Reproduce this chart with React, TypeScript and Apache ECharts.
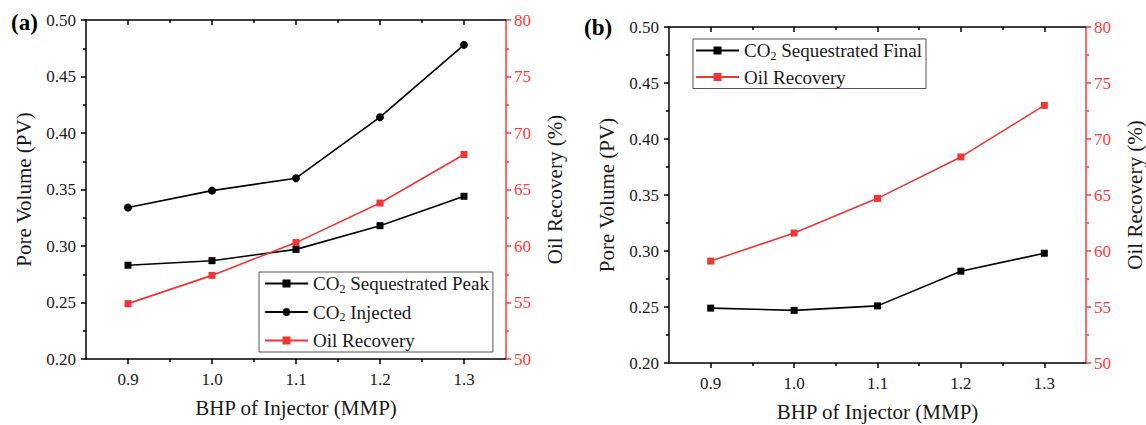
import React, { useEffect, useRef } from 'react';
import * as echarts from 'echarts';

// ---- data ----
const bhpValues = [0.9, 1.0, 1.1, 1.2, 1.3];
const xMajorTicks = [0.9, 1.0, 1.1, 1.2, 1.3];
const xMinorTicks = [0.95, 1.05, 1.15, 1.25];

const seqPeakA = [0.283, 0.287, 0.297, 0.318, 0.344];
const injectedA = [0.334, 0.349, 0.360, 0.414, 0.478];
const oilRecoveryA = [54.9, 57.4, 60.3, 63.8, 68.1];

const seqFinalB = [0.249, 0.247, 0.251, 0.282, 0.298];
const oilRecoveryB = [59.1, 61.6, 64.7, 68.4, 73.0];

const FONT = 'Liberation Serif';
const BLACK = '#000';
const TEXT = '#1a1a1a';
const RED = '#f03535';
const RED_AXIS = '#ff3b3b';

const pairs = (vals: number[]) => bhpValues.map((x, i) => [x, vals[i]]);

function xAxesFor(grid: number) {
  const common = {
    type: 'value',
    gridIndex: grid,
    min: 0.85,
    max: 1.35,
    splitLine: { show: false },
  };
  return [
    {
      ...common,
      position: 'bottom',
      axisLine: { show: true, onZero: false, lineStyle: { color: BLACK, width: 1.5 } },
      axisTick: { show: true, customValues: xMajorTicks, length: 5, inside: false, lineStyle: { color: BLACK, width: 1.5 } },
      axisLabel: {
        show: true,
        customValues: xMajorTicks,
        formatter: (v: number) => v.toFixed(1),
        margin: 12,
        fontSize: 17,
        fontFamily: FONT,
        color: TEXT,
      },
      name: 'BHP of Injector (MMP)',
      nameLocation: 'middle',
      nameGap: 38,
      nameTextStyle: { fontSize: 21, fontFamily: FONT, color: TEXT },
    },
    {
      ...common,
      position: 'bottom',
      axisLine: { show: false, onZero: false },
      axisTick: { show: true, customValues: xMinorTicks, length: 3, inside: false, lineStyle: { color: BLACK, width: 1.5 } },
      axisLabel: { show: false },
    },
    {
      ...common,
      position: 'top',
      axisLine: { show: true, onZero: false, lineStyle: { color: BLACK, width: 1.5 } },
      axisTick: { show: true, customValues: xMajorTicks, length: 5, inside: true, lineStyle: { color: BLACK, width: 1.5 } },
      axisLabel: { show: false },
    },
    {
      ...common,
      position: 'top',
      axisLine: { show: false, onZero: false },
      axisTick: { show: true, customValues: xMinorTicks, length: 3, inside: true, lineStyle: { color: BLACK, width: 1.5 } },
      axisLabel: { show: false },
    },
  ];
}

function yAxesFor(grid: number) {
  return [
    {
      type: 'value',
      gridIndex: grid,
      position: 'left',
      min: 0.2,
      max: 0.5,
      interval: 0.05,
      axisLine: { show: true, onZero: false, lineStyle: { color: BLACK, width: 1.5 } },
      axisTick: { show: true, length: 5, lineStyle: { color: BLACK, width: 1.5 } },
      minorTick: { show: true, splitNumber: 2, length: 3, lineStyle: { color: BLACK, width: 1.5 } },
      splitLine: { show: false },
      minorSplitLine: { show: false },
      axisLabel: {
        formatter: (v: number) => v.toFixed(2),
        margin: 10,
        fontSize: 17,
        fontFamily: FONT,
        color: TEXT,
      },
      name: 'Pore Volume (PV)',
      nameLocation: 'middle',
      nameGap: 52,
      nameTextStyle: { fontSize: 21, fontFamily: FONT, color: TEXT },
    },
    {
      type: 'value',
      gridIndex: grid,
      position: 'right',
      min: 50,
      max: 80,
      interval: 5,
      axisLine: { show: true, onZero: false, lineStyle: { color: RED_AXIS, width: 1.5 } },
      axisTick: { show: true, length: 5, lineStyle: { color: RED_AXIS, width: 1.5 } },
      minorTick: { show: true, splitNumber: 2, length: 3, lineStyle: { color: RED_AXIS, width: 1.5 } },
      splitLine: { show: false },
      minorSplitLine: { show: false },
      axisLabel: {
        margin: 8,
        fontSize: 17,
        fontFamily: FONT,
        color: RED_AXIS,
      },
      name: 'Oil Recovery (%)',
      nameLocation: 'middle',
      nameGap: 38,
      nameTextStyle: { fontSize: 21, fontFamily: FONT, color: TEXT },
    },
  ];
}

function lineSeries(name: string, data: number[], xIdx: number, yIdx: number, color: string, symbol: string) {
  return {
    type: 'line',
    name,
    data: pairs(data),
    xAxisIndex: xIdx,
    yAxisIndex: yIdx,
    symbol,
    symbolSize: symbol === 'circle' ? 8 : 7,
    showSymbol: true,
    lineStyle: { color, width: 1.6 },
    itemStyle: { color, borderWidth: 0 },
    emphasis: { disabled: true },
  };
}

const legendText = {
  fontFamily: FONT,
  fontSize: 19,
  color: TEXT,
  rich: {
    n: { fontFamily: FONT, fontSize: 19, color: TEXT },
    s: { fontFamily: FONT, fontSize: 12, color: TEXT, padding: [10, 0, 0, 0] },
  },
};

const legendFormatter = (name: string) =>
  name.startsWith('CO2') ? `{n|CO}{s|2}{n|${name.slice(3)}}` : `{n|${name}}`;

export default function App() {
  const ref = useRef<HTMLDivElement>(null);

  useEffect(() => {
    document.body.style.margin = '0';
    if (!ref.current) return;
    const chart = echarts.init(ref.current, undefined, { renderer: 'svg' });
    chart.setOption({
      animation: false,
      backgroundColor: '#fff',
      textStyle: { fontFamily: FONT },
      grid: [
        { left: 86, top: 20, width: 420, height: 339, containLabel: false, outerBoundsMode: 'none' },
        { left: 669, top: 27, width: 417, height: 336, containLabel: false, outerBoundsMode: 'none' },
      ],
      xAxis: [...xAxesFor(0), ...xAxesFor(1)],
      yAxis: [...yAxesFor(0), ...yAxesFor(1)],
      legend: [
        {
          data: ['CO2 Sequestrated Peak', 'CO2 Injected', 'Oil Recovery'],
          orient: 'vertical',
          left: 259,
          top: 272,
          itemWidth: 43,
          itemHeight: 10,
          itemGap: 8,
          padding: [2, 4, 2, 5],
          borderColor: '#555',
          borderWidth: 1,
          backgroundColor: '#fff',
          selectedMode: false,
          formatter: legendFormatter,
          textStyle: legendText,
        },
        {
          data: ['CO2 Sequestrated Final', 'Oil Recovery'],
          orient: 'vertical',
          left: 693,
          top: 39,
          itemWidth: 43,
          itemHeight: 10,
          itemGap: 6,
          padding: [2, 4, 2, 2],
          borderColor: '#555',
          borderWidth: 1,
          backgroundColor: '#fff',
          selectedMode: false,
          formatter: legendFormatter,
          textStyle: legendText,
        },
      ],
      graphic: [
        { type: 'text', left: 11, top: 11, style: { text: '(a)', font: `bold 23px ${FONT}`, fill: '#000' } },
        { type: 'text', left: 584, top: 16, style: { text: '(b)', font: `bold 23px ${FONT}`, fill: '#000' } },
      ],
      series: [
        lineSeries('CO2 Sequestrated Peak', seqPeakA, 0, 0, BLACK, 'rect'),
        lineSeries('CO2 Injected', injectedA, 0, 0, BLACK, 'circle'),
        lineSeries('Oil Recovery', oilRecoveryA, 0, 1, RED, 'rect'),
        lineSeries('CO2 Sequestrated Final', seqFinalB, 4, 2, BLACK, 'rect'),
        lineSeries('Oil Recovery', oilRecoveryB, 4, 3, RED, 'rect'),
      ],
    });
    return () => chart.dispose();
  }, []);

  return <div ref={ref} style={{ width: 1146, height: 425 }} />;
}
